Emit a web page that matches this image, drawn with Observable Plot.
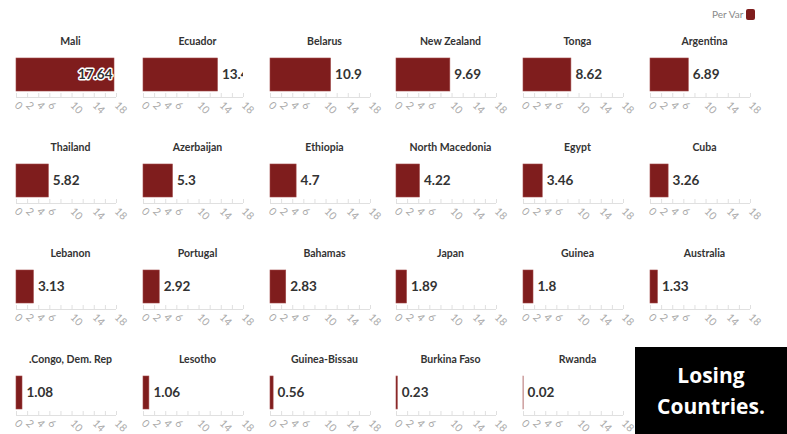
<!DOCTYPE html>
<html><head><meta charset="utf-8">
<script src="https://cdn.jsdelivr.net/npm/d3@7"></script>
<script src="https://cdn.jsdelivr.net/npm/@observablehq/plot@0.6"></script>
<style>
body{margin:0;background:#fff;font-family:Lato,sans-serif;}
#wrap{position:relative;width:787px;height:434px;overflow:hidden;background:#fff;}
.panel{position:absolute;}
#legend{position:absolute;left:712px;top:8px;font-size:10px;color:#888;display:flex;align-items:center;font-family:Lato,sans-serif;}
#legend .sw{display:inline-block;width:9px;height:11px;background:#7f1d1d;border-radius:2px;margin-left:3px;}
#box{position:absolute;left:635px;top:347px;width:152px;height:87px;background:#000;color:#fff;font-family:"Open Sans",sans-serif;font-weight:700;font-size:21px;line-height:31px;text-align:center;display:flex;align-items:center;justify-content:center;}
</style></head><body><div id="wrap">
<div id="legend">Per Var<span class="sw"></span></div>
<div id="box"><div>Losing<br>Countries.</div></div>
</div>
<script>
const countries = ["Mali","Ecuador","Belarus","New Zealand","Tonga","Argentina",
  "Thailand","Azerbaijan","Ethiopia","North Macedonia","Egypt","Cuba",
  "Lebanon","Portugal","Bahamas","Japan","Guinea","Australia",
  ".Congo, Dem. Rep","Lesotho","Guinea-Bissau","Burkina Faso","Rwanda"];
const values = [17.64,13.4,10.9,9.69,8.62,6.89,
  5.82,5.3,4.7,4.22,3.46,3.26,
  3.13,2.92,2.83,1.89,1.8,1.33,
  1.08,1.06,0.56,0.23,0.02];
const tickValues = [0,2,4,6,8,10,12,14,16,18];
const tickLabels = [0,2,4,6,10,14,18];

const COLW = 126.8, ROWH = 106, TOP0 = 16;
const W = 127, H = 106;
const wrap = document.getElementById("wrap");

countries.forEach((name, i) => {
  const c = i % 6, r = Math.floor(i / 6);
  const d = [{name, value: values[i]}];
  const inside = values[i] > 15;
  const svg = Plot.plot({
    width: W, height: H,
    marginLeft: 16, marginRight: 11, marginTop: 42, marginBottom: 25,
    style: {color: "#aaa", background: "transparent", fontFamily: "Lato, sans-serif", fontSize: "10.5px", overflow: "visible"},
    x: {domain: [0, 18], ticks: tickValues, tickFormat: v => tickLabels.includes(v) ? String(v) : "", tickSize: 0, tickPadding: 6, tickRotate: 45, label: null},
    y: {domain: [0, 39], axis: null},
    marks: [
      Plot.rect(d, {x1: 0, x2: "value", y1: 6, y2: 39, fill: "#7f1d1d", stroke: "#a04848", strokeWidth: 0.6}),
      Plot.ruleY([0], {x1: 0, x2: 18, stroke: "#e0e0e0"}),
      Plot.ruleX(tickValues, {y1: 0, y2: 4, stroke: "#e0e0e0"}),
      Plot.text(d, {frameAnchor: "top", text: "name", dx: 4, dy: -17, lineAnchor: "middle", fill: "#333", fontWeight: 700, fontSize: 10.5}),
      Plot.text(d, {x: "value", y: 22.5, text: v => String(v.value), textAnchor: inside ? "end" : "start", dx: inside ? -2 : 4,
        fill: "#333", fontWeight: 700, fontSize: 13.5, stroke: inside ? "white" : null, strokeWidth: 3, paintOrder: "stroke", clip: true})
    ]
  });
  svg.classList.add("panel");
  svg.style.left = (c * COLW) + "px";
  svg.style.top = (TOP0 + r * ROWH) + "px";
  svg.style.position = "absolute";
  wrap.appendChild(svg);
});
</script>
</body></html>
